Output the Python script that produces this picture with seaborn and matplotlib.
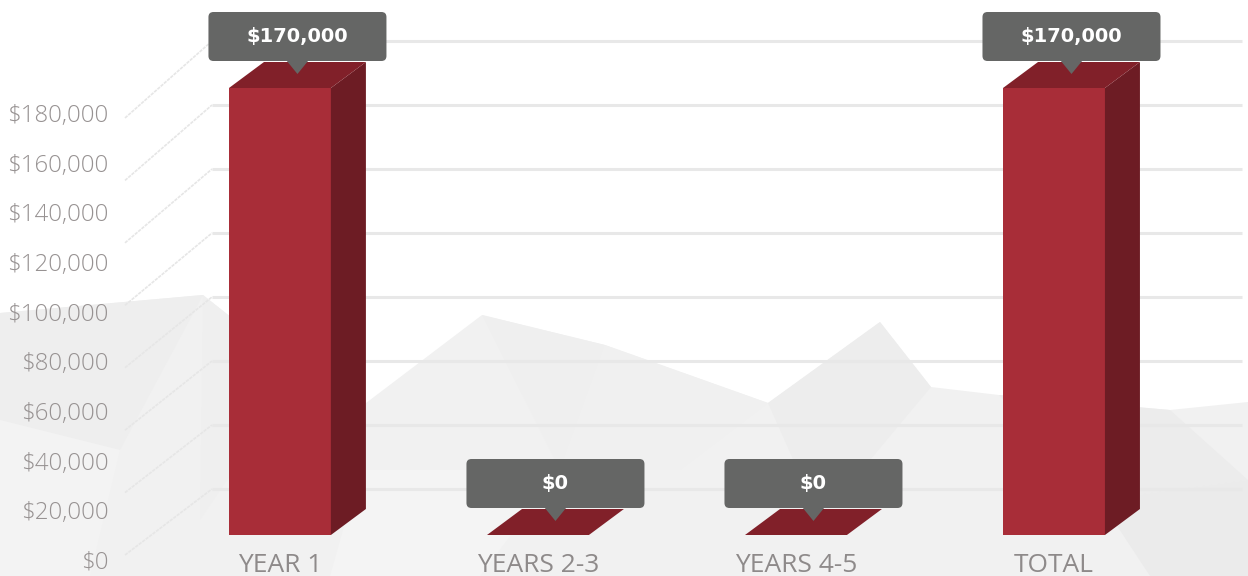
import matplotlib
matplotlib.use("Agg")
import matplotlib.pyplot as plt
import matplotlib.transforms as mtransforms
from matplotlib.patches import Polygon, FancyBboxPatch
from matplotlib.ticker import FuncFormatter, FixedLocator
import pandas as pd
import seaborn as sns

# ---- data -------------------------------------------------------------
categories = ["YEAR 1", "YEARS 2-3", "YEARS 4-5", "TOTAL"]
values = [170000, 0, 0, 170000]
value_labels = ["$170,000", "$0", "$0", "$170,000"]
axis_ticks = [0, 20000, 40000, 60000, 80000, 100000, 120000, 140000, 160000, 180000]
wall_ticks = [0, 20000, 40000, 60000, 80000, 100000, 120000, 140000]

# ---- style ------------------------------------------------------------
sns.set_theme(style="white")
plt.rcParams["font.family"] = ["Open Sans", "DejaVu Sans"]

FRONT = "#a82d38"
SIDE = "#6d1c24"
TOP = "#812029"
TIP_BG = "#656665"
LABEL_GREY = "#979292"
GRID = "#e8e8e8"

W, H = 1248, 576
fig = plt.figure(figsize=(W / 100, H / 100), dpi=100)
fig.patch.set_facecolor("white")

# ---- faceted light-grey backdrop (pixel space) -------------------------
ax_bg = fig.add_axes([0, 0, 1, 1], zorder=0)
ax_bg.set_xlim(0, W)
ax_bg.set_ylim(H, 0)
ax_bg.axis("off")
backdrop = [(0, 313), (203, 295), (300, 372), (366, 403), (482, 315), (605, 345),
            (768, 403), (880, 322), (931, 387), (999, 395), (1170, 410), (1248, 402),
            (1248, 576), (0, 576)]
ax_bg.add_patch(Polygon(backdrop, closed=True, facecolor="#f1f1f1", edgecolor="none"))
facets = [
    ([(0, 313), (203, 295), (120, 450), (0, 420)], "#eeeeee"),
    ([(203, 295), (300, 372), (200, 520)], "#efefef"),
    ([(482, 315), (605, 345), (560, 470)], "#efefef"),
    ([(605, 345), (768, 403), (680, 470), (560, 470)], "#f0f0f0"),
    ([(880, 322), (931, 387), (820, 520), (768, 403)], "#ededed"),
    ([(999, 395), (1170, 410), (1248, 480), (1100, 500)], "#ececec"),
    ([(0, 420), (120, 450), (90, 576), (0, 576)], "#f3f3f3"),
    ([(360, 470), (560, 470), (480, 576), (330, 576)], "#f4f4f4"),
    ([(1100, 500), (1248, 480), (1248, 576), (1150, 576)], "#ebebeb"),
]
for pts, col in facets:
    ax_bg.add_patch(Polygon(pts, closed=True, facecolor=col, edgecolor="none"))

# ---- back wall grid and left wall lines --------------------------------
ax_wall = fig.add_axes([0, 0, 1, 1], zorder=1)
ax_wall.patch.set_visible(False)
ax_wall.axis("off")
ax_wall.set_xlim(0, W)
ax_wall.set_ylim(-27187.5, 152812.5)
ax_wall.hlines(wall_ticks, 212, 1242, color=GRID, lw=2.2, zorder=1)
for v in wall_ticks:
    start = -20625 + 0.9755 * v
    ax_wall.plot([125, 212], [start, v], color="#e6e6e6", lw=1.2,
                 ls=(0, (2, 0.6)), zorder=1)

# ---- value axis labels -------------------------------------------------
ax_lab = fig.add_axes([114 / W, 0, 0.001, 1], zorder=1)
ax_lab.patch.set_visible(False)
for s in ax_lab.spines.values():
    s.set_visible(False)
ax_lab.set_ylim(-6443, 225503)
ax_lab.yaxis.set_major_locator(FixedLocator(axis_ticks))
ax_lab.yaxis.set_major_formatter(FuncFormatter(lambda v, p: "\\$" + f"{int(v):,}"))
ax_lab.set_xticks([])
ax_lab.tick_params(axis="y", length=0, pad=4, labelsize=17.3, labelcolor=LABEL_GREY)
for t in ax_lab.get_yticklabels():
    t.set_fontweight("light")

# ---- 3D bars -------------------------------------------------------------
ax = fig.add_axes([0, 0, 1, 1], zorder=2)
ax.patch.set_visible(False)
df = pd.DataFrame({"category": categories, "value": values})
sns.barplot(data=df, x="category", y="value", ax=ax, width=0.395,
            color=FRONT, saturation=1, edgecolor="none", zorder=3)
ax.set_xlim(-1.085, 3.752)
ax.set_ylim(-15593, 203468)
for s in ax.spines.values():
    s.set_visible(False)
ax.set_yticks([])
ax.set_xlabel("")
ax.set_ylabel("")
ax.tick_params(axis="x", length=0, pad=-16.5, labelsize=19, labelcolor="#8e8a8a")

DX, DY = 0.1357, 9888  # depth offset in data units
px = mtransforms.IdentityTransform()
for bar, label in zip(ax.patches, value_labels):
    x0 = bar.get_x()
    x1 = x0 + bar.get_width()
    h = bar.get_height()
    if h > 0:
        ax.add_patch(Polygon([(x1, 0), (x1 + DX, DY), (x1 + DX, h + DY), (x1, h)],
                             closed=True, facecolor=SIDE, edgecolor="none", zorder=3))
    ax.add_patch(Polygon([(x0, h), (x0 + DX, h + DY), (x1 + DX, h + DY), (x1, h)],
                         closed=True, facecolor=TOP, edgecolor="none", zorder=3))

    # tooltip anchored at the centre of the top face
    cx, cy = (x0 + x1) / 2 + DX / 2, h + DY / 2
    tr = px + mtransforms.ScaledTranslation(cx, cy, ax.transData)
    ax.add_patch(FancyBboxPatch((-89, 14), 178, 49,
                                boxstyle="round,pad=0,rounding_size=5",
                                facecolor=TIP_BG, edgecolor="none",
                                transform=tr, zorder=5))
    ax.add_patch(Polygon([(-11, 14.5), (11, 14.5), (0, 1)], closed=True,
                         facecolor=TIP_BG, edgecolor="none", transform=tr, zorder=5))
    ax.annotate(label.replace("$", "\\$"), (cx, cy), xytext=(0, 38.5 * 0.72),
                textcoords="offset points", ha="center", va="center",
                color="white", fontsize=14, fontweight="bold",
                family=["DejaVu Sans"], zorder=6)

fig.savefig("out.png", dpi=100, facecolor="white")
